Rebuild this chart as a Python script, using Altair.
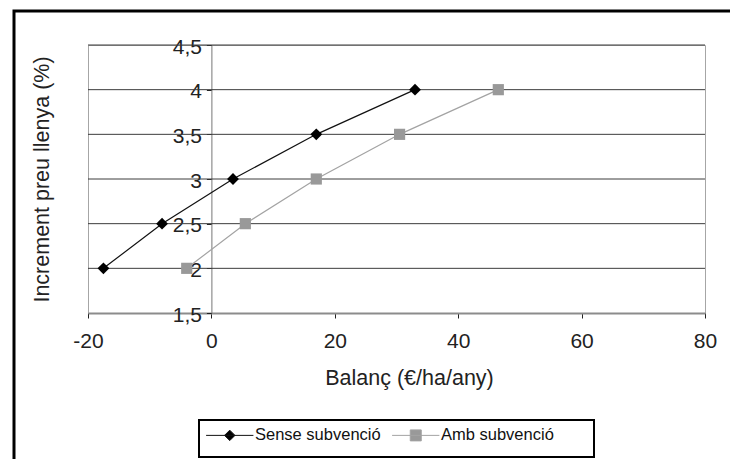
import altair as alt
import pandas as pd

# ---- data ----
series_names = ["Sense subvenció", "Amb subvenció"]
sense_x = [-17.5, -8.0, 3.5, 17.0, 33.0]
sense_y = [2.0, 2.5, 3.0, 3.5, 4.0]
amb_x = [-4.0, 5.5, 17.0, 30.5, 46.5]
amb_y = [2.0, 2.5, 3.0, 3.5, 4.0]
x_ticks = [-20, 0, 20, 40, 60, 80]
y_ticks = [1.5, 2.0, 2.5, 3.0, 3.5, 4.0, 4.5]
x_title = "Balanç (€/ha/any)"
y_title = "Increment preu llenya (%)"

line_colors = ["#111111", "#a3a3a3"]
marker_colors = ["#000000", "#999999"]
marker_shapes = ["diamond", "square"]
marker_sizes = [140, 125]
FONT = "Liberation Sans"

df = pd.DataFrame({
    "balanc": sense_x + amb_x,
    "increment": sense_y + amb_y,
    "serie": [series_names[0]] * len(sense_x) + [series_names[1]] * len(amb_x),
})
grid_df = pd.DataFrame({"v": y_ticks[1:]})

W, H = 617, 268
xscale = alt.Scale(domain=[x_ticks[0], x_ticks[-1]], nice=False, zero=False)
yscale = alt.Scale(domain=[y_ticks[0], y_ticks[-1]], nice=False, zero=False)
# y axis crosses at x = 0
y_offset = -W * (0 - x_ticks[0]) / (x_ticks[-1] - x_ticks[0])

x_axis = alt.Axis(
    values=x_ticks, grid=False, title=x_title,
    labelExpr="datum.value < 0 ? '-' + abs(datum.value) : '' + datum.value",
    domainColor="#8c8c8c", domainWidth=2,
    tickColor="#222222", tickSize=5, tickWidth=1,
    labelFont=FONT, labelFontSize=21, labelColor="#222222",
    labelBaseline="alphabetic", labelPadding=29, labelFlush=False,
    titleFont=FONT, titleFontSize=21.5, titleFontWeight="normal", titleColor="#222222",
    titleX=321, titleY=71, titleBaseline="alphabetic", titleAlign="center",
)
y_axis = alt.Axis(
    values=y_ticks, grid=False, title=y_title, offset=y_offset,
    domainColor="#777777", domainWidth=1,
    tickColor="#222222", tickSize=5, tickWidth=1,
    labelExpr="replace(format(datum.value, '~g'), '.', ',')",
    labelFont=FONT, labelFontSize=21, labelColor="#222222",
    labelPadding=5, labelBaseline="middle", labelOffset=2,
    titleFont=FONT, titleFontSize=21.5, titleFontWeight="normal", titleColor="#222222",
    titleX=-163.4, titleY=H / 2, titleAngle=-90, titleBaseline="alphabetic", titleAlign="center",
)

X = alt.X("balanc:Q", scale=xscale, axis=x_axis)
Y = alt.Y("increment:Q", scale=yscale, axis=y_axis)

base = alt.Chart(df)

grid = alt.Chart(grid_df).mark_rule(color="#3c3c3c", strokeWidth=1).encode(
    y=alt.Y("v:Q", scale=yscale, axis=y_axis)
)

series_layers = []
for i, name in enumerate(series_names):
    sub = base.transform_filter(alt.datum.serie == name)
    series_layers.append(
        sub.mark_line(color=line_colors[i], strokeWidth=1.2).encode(x=X, y=Y)
    )
    series_layers.append(
        sub.mark_point(shape=marker_shapes[i], filled=True, size=marker_sizes[i],
                       opacity=1, color=marker_colors[i]).encode(x=X, y=Y)
    )

# legend symbols: line segment + marker
legend_paths = [
    "M-4.3,0H4.3M0,-0.95L0.95,0L0,0.95L-0.95,0Z",
    "M-4.3,0H4.3M-1,-1H1V1H-1Z",
]
leg = alt.Legend(
    title=None, orient="none", legendX=117, legendY=382, direction="horizontal",
    symbolSize=121, symbolStrokeWidth=1, symbolOffset=16.5, labelOffset=17,
    symbolOpacity=1, columnPadding=9, padding=0,
    labelFont=FONT, labelFontSize=16.5, labelColor="#111111", labelLimit=300,
)
# carrier layer with no rows: it only provides the legend (domain is explicit)
legend_layer = base.transform_filter("false").mark_point(filled=True, opacity=1, size=121).encode(
    x=X, y=Y,
    fill=alt.Fill("serie:N", scale=alt.Scale(domain=series_names, range=marker_colors), legend=leg),
    stroke=alt.Stroke("serie:N", scale=alt.Scale(domain=series_names, range=line_colors), legend=leg),
    shape=alt.Shape("serie:N", scale=alt.Scale(domain=series_names, range=legend_paths), legend=leg),
)

one = alt.Data(values=[{}])
legend_box = alt.Chart(one).mark_rect(fillOpacity=0, stroke="#000000", strokeWidth=2).encode(
    x=alt.value(111), x2=alt.value(506), y=alt.value(375), y2=alt.value(412)
)
frame = alt.Chart(one).mark_rect(fillOpacity=0, stroke="#000000", strokeWidth=3).encode(
    x=alt.value(-74), x2=alt.value(680), y=alt.value(-34), y2=alt.value(440)
)

chart = alt.layer(grid, *series_layers, legend_layer, legend_box, frame).properties(
    width=W, height=H,
    padding={"left": 88, "top": 45, "right": 25, "bottom": 146},
    autosize=alt.AutoSizeParams(type="none"),
    background="white",
).configure_view(stroke="#a6a6a6", strokeWidth=1)

chart.save("out.html", embed_options={"renderer": "svg", "actions": False})
